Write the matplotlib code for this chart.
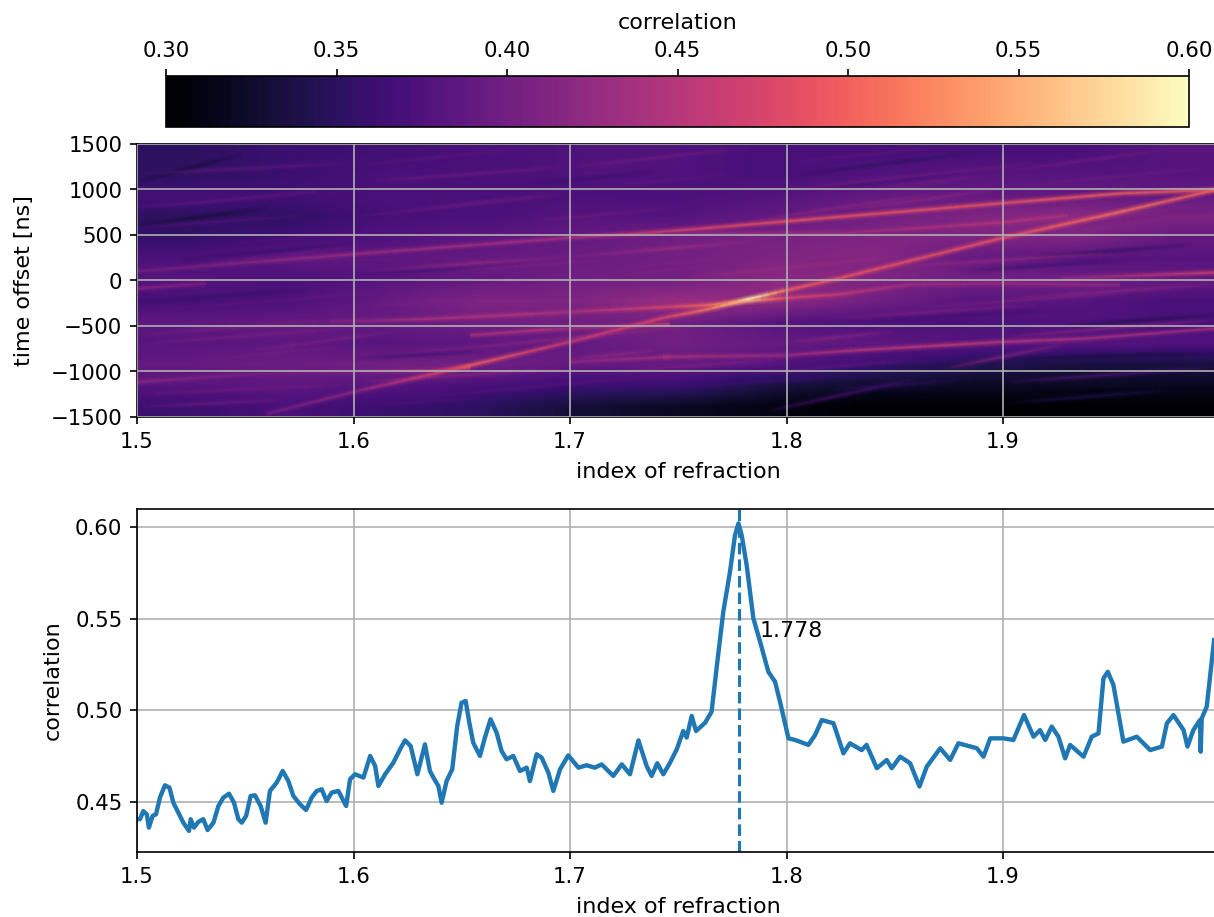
import numpy as np
import matplotlib
matplotlib.use('Agg')
import matplotlib.pyplot as plt
from matplotlib.collections import LineCollection
from matplotlib.colors import Normalize

# coarse correlation background, rows top to bottom
base_index = [1.5, 1.55, 1.6, 1.65, 1.7, 1.75, 1.8, 1.85, 1.9, 1.95, 2.0]
base_offset = [1500, 1250, 1000, 750, 500, 250, 0, -250, -500, -750, -1000, -1250, -1500]
base_corr = [
    [.350, .360, .365, .370, .375, .375, .370, .370, .370, .370, .380],
    [.350, .360, .370, .370, .375, .375, .370, .375, .380, .380, .380],
    [.368, .365, .370, .370, .372, .372, .378, .390, .390, .390, .390],
    [.350, .352, .368, .370, .380, .378, .390, .400, .410, .420, .410],
    [.355, .365, .375, .385, .390, .400, .405, .410, .410, .410, .390],
    [.372, .385, .385, .390, .395, .400, .410, .415, .390, .380, .380],
    [.380, .372, .380, .390, .400, .400, .420, .410, .400, .400, .390],
    [.368, .372, .390, .410, .410, .430, .420, .400, .380, .380, .370],
    [.385, .390, .390, .400, .400, .400, .380, .372, .372, .375, .370],
    [.380, .385, .380, .385, .390, .400, .390, .385, .380, .380, .375],
    [.390, .395, .400, .400, .390, .390, .380, .360, .345, .335, .335],
    [.380, .385, .380, .370, .360, .360, .335, .325, .320, .320, .320],
    [.360, .370, .360, .350, .330, .320, .310, .300, .300, .300, .300],
]

# bright ridges: index, offset, correlation along each one
ridge_a = [[1.5, 1.6, 1.7, 1.743, 1.8, 1.9, 1.954, 1.998],
           [100, 290, 470, 535, 650, 850, 957, 994],
           [.40, .43, .44, .47, .49, .49, .50, .49]]
ridge_b = [[1.56, 1.6, 1.654, 1.7, 1.743, 1.763, 1.782, 1.8, 1.824, 1.9, 1.951, 1.998],
           [-1464, -1225, -932, -675, -411, -320, -206, -107, 22, 469, 737, 994],
           [.40, .42, .50, .46, .48, .52, .60, .50, .49, .49, .51, .50]]
ridge_c = [[1.589, 1.629, 1.67, 1.7, 1.746, 1.763, 1.782, 1.8, 1.824, 1.857, 1.9, 1.954],
           [-455, -429, -382, -345, -290, -272, -225, -191, -154, -44, -33, -51],
           [.41, .44, .45, .44, .48, .51, .55, .48, .46, .43, .43, .42]]
ridge_d = [[1.5, 1.557, 1.6, 1.638, 1.654],
           [-1115, -1024, -998, -987, -950],
           [.42, .40, .41, .45, .49]]
ridge_e = [[1.743, 1.8, 1.832, 1.873, 1.9, 1.938, 1.998],
           [-840, -822, -767, -712, -675, -638, -528],
           [.44, .43, .45, .46, .45, .44, .43]]
ridge_f = [[1.654, 1.686, 1.7, 1.746], [-602, -545, -528, -480], [.44, .45, .43, .46]]
ridge_g = [[1.7, 1.746], [-895, -840], [.42, .44]]
ridge_h = [[1.5, 1.532], [-88, -33], [.42, .41]]
ridge_i = [[1.6, 1.654, 1.7, 1.746, 1.8], [95, 187, 260, 352, 462], [.38, .42, .40, .43, .40]]
ridge_j = [[1.743, 1.824, 1.9, 1.93], [517, 517, 638, 717], [.42, .43, .45, .44]]
ridge_k = [[1.927, 1.998], [22, 88], [.42, .47]]
ridge_l = [[1.5, 1.524, 1.583], [810, 847, 975], [.37, .385, .38]]
ridges = [ridge_a, ridge_b, ridge_c, ridge_d, ridge_e, ridge_f, ridge_g, ridge_h,
          ridge_i, ridge_j, ridge_k, ridge_l]

# faint streaks: index0, offset0, index1, offset1, correlation
streaks = [
    (1.605, 1085, 1.70, 1250, .40), (1.70, 1250, 1.78, 1450, .40),
    (1.60, 700, 1.70, 950, .395), (1.63, 800, 1.70, 960, .39),
    (1.50, 1170, 1.60, 1290, .39), (1.50, 580, 1.58, 720, .38),
    (1.80, 1000, 1.92, 1300, .40), (1.84, 1000, 1.89, 1150, .40),
    (1.90, 1200, 1.98, 1450, .40), (1.83, 780, 1.90, 1010, .42),
    (1.78, 640, 1.87, 960, .42), (1.90, 1020, 2.00, 1250, .395),
    (1.72, 500, 1.80, 640, .40), (1.50, -600, 1.60, -420, .41),
    (1.50, -700, 1.60, -520, .41), (1.55, -780, 1.62, -560, .41),
    (1.52, -900, 1.60, -710, .40), (1.50, -1250, 1.60, -1140, .40),
    (1.50, -1390, 1.57, -1310, .40), (1.60, -1120, 1.70, -960, .42),
    (1.62, -1300, 1.75, -1030, .38), (1.70, -860, 1.74, -770, .43),
    (1.79, -1443, 1.86, -1078, .375), (1.873, -968, 1.93, -693, .42),
    (1.90, -1350, 1.98, -1200, .345), (1.82, -1200, 1.88, -1100, .355),
    (1.90, -1120, 2.00, -950, .38), (1.85, 150, 1.95, 300, .43),
    (1.75, 20, 1.85, 260, .43), (1.90, -200, 2.00, -40, .42),
    (1.80, -680, 1.85, -560, .42), (1.64, 100, 1.72, 230, .41),
    (1.60, -300, 1.70, -120, .41), (1.68, 650, 1.75, 800, .395),
    (1.52, 150, 1.62, 420, .39), (1.56, -250, 1.66, 30, .39),
    (1.50, -330, 1.60, -160, .385), (1.62, -150, 1.70, 60, .40),
    (1.70, 0, 1.78, 200, .41), (1.72, 120, 1.80, 330, .41),
    (1.76, -60, 1.84, 120, .42), (1.86, -300, 1.96, -130, .41),
    (1.82, -420, 1.92, -260, .41), (1.92, 100, 2.00, 200, .385),
    (1.87, 400, 1.97, 640, .41), (1.93, 600, 2.00, 800, .40),
    (1.62, -800, 1.72, -610, .41), (1.66, -720, 1.76, -500, .42),
    (1.72, -1000, 1.80, -860, .41), (1.78, -1030, 1.86, -870, .39),
    (1.60, -1380, 1.66, -1290, .375), (1.74, -1180, 1.82, -1070, .36),
    (1.66, 400, 1.76, 650, .39), (1.60, 1260, 1.68, 1450, .385),
    (1.80, 1300, 1.88, 1480, .385), (1.70, 1000, 1.78, 1180, .385),
    (1.54, 400, 1.62, 560, .38), (1.90, -620, 2.00, -430, .42),
]
# darker lines between the streaks
dark_streaks = [
    (1.50, 1085, 1.548, 1380, .33), (1.50, 610, 1.56, 790, .33),
    (1.90, -860, 2.00, -800, .33), (1.914, 260, 1.987, 390, .35),
    (1.93, -490, 2.00, -380, .34), (1.805, 1160, 1.89, 1415, .35),
    (1.52, 230, 1.60, 400, .355), (1.68, 1050, 1.74, 1200, .36),
    (1.82, 1020, 1.88, 1180, .36), (1.50, -240, 1.58, -100, .355),
    (1.60, 60, 1.68, 180, .365), (1.88, 100, 1.96, 230, .36),
    (1.84, -440, 1.92, -330, .365), (1.84, -960, 1.92, -900, .34),
    (1.60, -860, 1.66, -780, .36), (1.90, -1260, 2.00, -1160, .31),
]

# correlation at best time offset
index_line = [
    1.5, 1.5014, 1.5029, 1.5045, 1.5055, 1.5072, 1.5088, 1.5106, 1.5129, 1.515, 1.5168, 1.5191,
    1.5214, 1.524, 1.5248, 1.5263, 1.5283, 1.5306, 1.5326, 1.5353, 1.5376, 1.5399, 1.5425, 1.5448,
    1.5468, 1.5484, 1.5504, 1.5525, 1.5545, 1.5571, 1.5594, 1.5614, 1.5645, 1.5673, 1.5699, 1.5722,
    1.5753, 1.5781, 1.5807, 1.583, 1.5853, 1.5876, 1.5899, 1.593, 1.5966, 1.5984, 1.6007, 1.6046,
    1.6077, 1.61, 1.6115, 1.6146, 1.6184, 1.6215, 1.6238, 1.6264, 1.6295, 1.633, 1.6353, 1.6369,
    1.6392, 1.6407, 1.643, 1.6456, 1.6479, 1.6499, 1.6518, 1.6535, 1.6553, 1.6584, 1.6607, 1.6633,
    1.6661, 1.6684, 1.6707, 1.6738, 1.6769, 1.68, 1.6815, 1.6846, 1.6869, 1.69, 1.6923, 1.6954,
    1.6992, 1.7039, 1.7077, 1.7115, 1.7146, 1.72, 1.7239, 1.7277, 1.7316, 1.7354, 1.7377, 1.7403,
    1.7431, 1.7462, 1.7493, 1.7523, 1.7539, 1.7562, 1.7582, 1.7624, 1.7654, 1.7677, 1.7708, 1.7739,
    1.7762, 1.7778, 1.7793, 1.7816, 1.7847, 1.7878, 1.7916, 1.7947, 1.797, 1.8009, 1.804, 1.8101,
    1.8132, 1.8163, 1.8217, 1.8263, 1.8293, 1.8347, 1.837, 1.8417, 1.8463, 1.8486, 1.8525, 1.8571,
    1.8614, 1.8648, 1.871, 1.8756, 1.8794, 1.8879, 1.891, 1.8941, 1.9002, 1.9048, 1.9097, 1.9141,
    1.9171, 1.9195, 1.9225, 1.9256, 1.9287, 1.931, 1.9372, 1.941, 1.9441, 1.9464, 1.9484, 1.951,
    1.9556, 1.9618, 1.968, 1.9734, 1.9757, 1.9787, 1.9834, 1.9852, 1.9879, 1.991, 1.9913, 1.9918,
    1.9941, 1.9975,
]
corr_line = [
    .4406, .4406, .445, .4433, .436, .4424, .4433, .4524, .4591, .4578, .4496, .4442,
    .4387, .4342, .4406, .436, .4391, .4406, .4347, .4387, .4478, .4524, .4545, .4496,
    .4406, .4387, .4424, .4533, .4536, .4478, .4387, .456, .4605, .4669, .4614, .4533,
    .4487, .4456, .4524, .456, .4569, .4505, .4551, .456, .4478, .4624, .4651, .4633,
    .4751, .4696, .4587, .4651, .4714, .4787, .4836, .4805, .4651, .4814, .4669, .4633,
    .4587, .4496, .4614, .4678, .4914, .5041, .5051, .4932, .4823, .4751, .4851, .4951,
    .4878, .4778, .4733, .4751, .4669, .4687, .4614, .476, .4742, .466, .456, .4678,
    .4754, .4687, .47, .4687, .4705, .4642, .4705, .4651, .4836, .4696, .4642, .4711,
    .4651, .4714, .4787, .4887, .4851, .4969, .4887, .4932, .4992, .5229, .5537, .5756,
    .5955, .6019, .5955, .5792, .5501, .5374, .521, .5156, .5047, .4847, .4838, .4811,
    .4865, .4947, .4929, .4765, .482, .4783, .4811, .4684, .4729, .4684, .4747, .4711,
    .4584, .4693, .4793, .4729, .482, .4793, .4747, .4847, .4847, .4838, .4974, .4856,
    .4892, .4838, .4911, .4856, .4738, .4811, .4747, .4856, .4874, .5174, .521, .5138,
    .4829, .4856, .4783, .4802, .4929, .4974, .4892, .4802, .4892, .4947, .4774, .4956,
    .502, .5383,
]
best_index = 1.778
xticks = [1.5, 1.6, 1.7, 1.8, 1.9]
cbar_ticks = [0.30, 0.35, 0.40, 0.45, 0.50, 0.55, 0.60]

plt.rcParams['xtick.labelsize'] = 10.2
plt.rcParams['ytick.labelsize'] = 10.2
plt.rcParams['axes.labelsize'] = 10.7

W, H = 1214, 917
fig = plt.figure(figsize=((W + 0.01) / 150, (H + 0.01) / 150), dpi=150)


def box(left, top, right, bottom):
    return [left / W, 1 - bottom / H, (right - left) / W, (bottom - top) / H]


def soft_lines(ax, rows, widths, zorder):
    # each streak is cut in short pieces that fade out towards its ends
    cmap = plt.get_cmap('magma')
    segs, cols = [], []
    for n0, t0, n1, t1, v in rows:
        xs = np.linspace(n0, n1, 25)
        ys = np.linspace(t0, t1, 25)
        for i in range(24):
            segs.append([(xs[i], ys[i]), (xs[i + 1], ys[i + 1])])
            c = list(cmap(norm(v)))
            c[3] = np.sin(np.pi * (i + 0.5) / 24) ** 0.7
            cols.append(c)
    cols = np.array(cols)
    for lw, alpha in widths:
        shade = cols.copy()
        shade[:, 3] *= alpha
        ax.add_collection(LineCollection(segs, colors=shade, linewidths=lw,
                                         capstyle='butt', zorder=zorder))


cax = fig.add_axes(box(166, 76, 1189, 127))
ax1 = fig.add_axes(box(137, 144, 1219.5, 417))
ax2 = fig.add_axes(box(137, 509, 1219.5, 852))

norm = Normalize(vmin=0.3, vmax=0.6)
im = ax1.imshow(base_corr, cmap='magma', norm=norm, aspect='auto', interpolation='bilinear',
                extent=[base_index[0], base_index[-1], base_offset[-1], base_offset[0]])

soft_lines(ax1, dark_streaks, [(3.0, 0.2), (1.4, 0.4)], 1)
soft_lines(ax1, streaks, [(3.6, 0.14), (2.2, 0.2), (1.0, 0.35)], 1.1)

segs, vals = [], []
for rx, ry, rv in ridges:
    fine_x = np.linspace(rx[0], rx[-1], 120)
    fine_y = np.interp(fine_x, rx, ry)
    fine_v = np.interp(fine_x, rx, rv)
    for i in range(len(fine_x) - 1):
        segs.append([(fine_x[i], fine_y[i]), (fine_x[i + 1], fine_y[i + 1])])
        vals.append(fine_v[i])
for lw, alpha in [(4.0, 0.12), (2.8, 0.2), (1.8, 0.3), (0.9, 0.6)]:
    ax1.add_collection(LineCollection(segs, cmap='magma', norm=norm, array=np.array(vals),
                                      linewidths=lw, alpha=alpha, capstyle='butt', zorder=1.2))

ax1.set_xlim(1.5, 2.0)
ax1.set_ylim(-1500, 1500)
ax1.set_xticks(xticks)
ax1.set_yticks([-1500, -1000, -500, 0, 500, 1000, 1500])
ax1.set_xlabel('index of refraction', labelpad=5)
ax1.set_ylabel('time offset [ns]', labelpad=8)
ax1.grid(True)
ax1.set_axisbelow(False)

cb = fig.colorbar(im, cax=cax, orientation='horizontal')
cb.set_ticks(cbar_ticks)
cb.ax.xaxis.set_ticks_position('top')
cb.ax.xaxis.set_label_position('top')
cb.set_label('correlation', labelpad=6)

ax2.plot(index_line, corr_line, lw=2.1)
ax2.axvline(best_index, ls='--', lw=1.5)
ax2.text(best_index + 0.0095, 0.5435, '1.778', va='center', fontsize=10.6)
ax2.set_xlim(1.5, 2.0)
ax2.set_ylim(0.4227, 0.6098)
ax2.set_xticks(xticks)
ax2.set_yticks([0.45, 0.50, 0.55, 0.60])
ax2.set_xlabel('index of refraction', labelpad=5)
ax2.set_ylabel('correlation', labelpad=6)
ax2.grid(True)

fig.savefig('out.png', dpi=150)
